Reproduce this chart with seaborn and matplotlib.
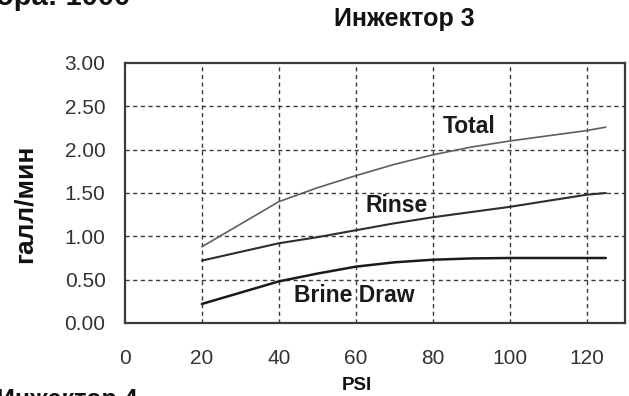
import matplotlib
matplotlib.use("Agg")
import matplotlib.pyplot as plt
import seaborn as sns
import pandas as pd

# Injector 3 flow curves (gallons per minute vs. inlet pressure, PSI)
psi = [20, 40, 50, 60, 70, 80, 90, 100, 110, 120, 125]
total = [0.88, 1.40, 1.56, 1.70, 1.83, 1.94, 2.03, 2.10, 2.16, 2.22, 2.26]
rinse = [0.72, 0.92, 0.99, 1.07, 1.15, 1.22, 1.28, 1.34, 1.41, 1.48, 1.50]
brine_draw = [0.22, 0.48, 0.57, 0.65, 0.70, 0.73, 0.745, 0.75, 0.75, 0.75, 0.75]

series_names = ["Total", "Rinse", "Brine Draw"]
x_ticks = [0, 20, 40, 60, 80, 100, 120]
y_ticks = [0.0, 0.5, 1.0, 1.5, 2.0, 2.5, 3.0]

df = pd.DataFrame({
    "PSI": psi * 3,
    "flow": total + rinse + brine_draw,
    "series": [n for n in series_names for _ in psi],
})

sns.set_theme(style="white")
plt.rcParams["font.family"] = ["Liberation Sans", "DejaVu Sans"]

fig = plt.figure(figsize=(6.29, 3.96), dpi=100)
ax = fig.add_axes([125 / 629, 73 / 396, 500 / 629, 260 / 396])

palette = {"Total": "#5e5e5e", "Rinse": "#2e2e2e", "Brine Draw": "#1a1a1a"}
sizes = {"Total": 1.2, "Rinse": 1.5, "Brine Draw": 1.8}
for name in series_names:
    sub = df[df["series"] == name]
    sns.lineplot(data=sub, x="PSI", y="flow", color=palette[name],
                 linewidth=sizes[name], ax=ax, legend=False, sort=False)

ax.set_xlim(0, 130)
ax.set_ylim(0, 3.0)
ax.set_xticks(x_ticks)
ax.set_yticks(y_ticks)
ax.set_xticklabels([str(t) for t in x_ticks])
ax.set_yticklabels([f"{t:.2f}" for t in y_ticks])
ax.tick_params(axis="both", length=0, labelsize=15, colors="#333333")
ax.tick_params(axis="x", pad=19)
ax.tick_params(axis="y", pad=14)

for v in x_ticks[1:]:
    ax.axvline(v, color="#3a3a3a", lw=1.0, ls=(0, (3, 2.5)), zorder=0)
for h in y_ticks[1:-1]:
    ax.axhline(h, color="#3a3a3a", lw=1.0, ls=(0, (3, 2.5)), zorder=0)

for s in ax.spines.values():
    s.set_color("#3a3a3a")
    s.set_linewidth(1.6)

ax.set_xlabel("")
ax.set_ylabel("")

# curve labels
ax.text(89.5, 2.27, "Total", fontsize=16.5, fontweight="bold", color="#1a1a1a",
        ha="center", va="center")
ax.text(70.5, 1.36, "Rinse", fontsize=16.5, fontweight="bold", color="#1a1a1a",
        ha="center", va="center")
ax.text(59.5, 0.32, "Brine Draw", fontsize=16.5, fontweight="bold", color="#1a1a1a",
        ha="center", va="center")

fig.text(404 / 629, 1 - 19 / 396, "Инжектор 3", fontsize=18, fontweight="bold",
         color="#111111", ha="center", va="center")
fig.text(25 / 629, 1 - 204 / 396, "галл/мин", fontsize=19, fontweight="bold",
         color="#111111", ha="center", va="center", rotation=90)
fig.text(357 / 629, 1 - 385 / 396, "PSI", fontsize=13.5, fontweight="bold",
         color="#111111", ha="center", va="center")

# neighbouring headings, partly outside the figure
fig.text(-4 / 629, 1 + 3 / 396, "ора: 1000", fontsize=21, fontweight="bold",
         color="#111111", ha="left", va="center")
fig.text(-3 / 629, 1 - 400 / 396, "Инжектор 4", fontsize=18, fontweight="bold",
         color="#111111", ha="left", va="center")

fig.savefig("out.png", dpi=100, facecolor="white")
